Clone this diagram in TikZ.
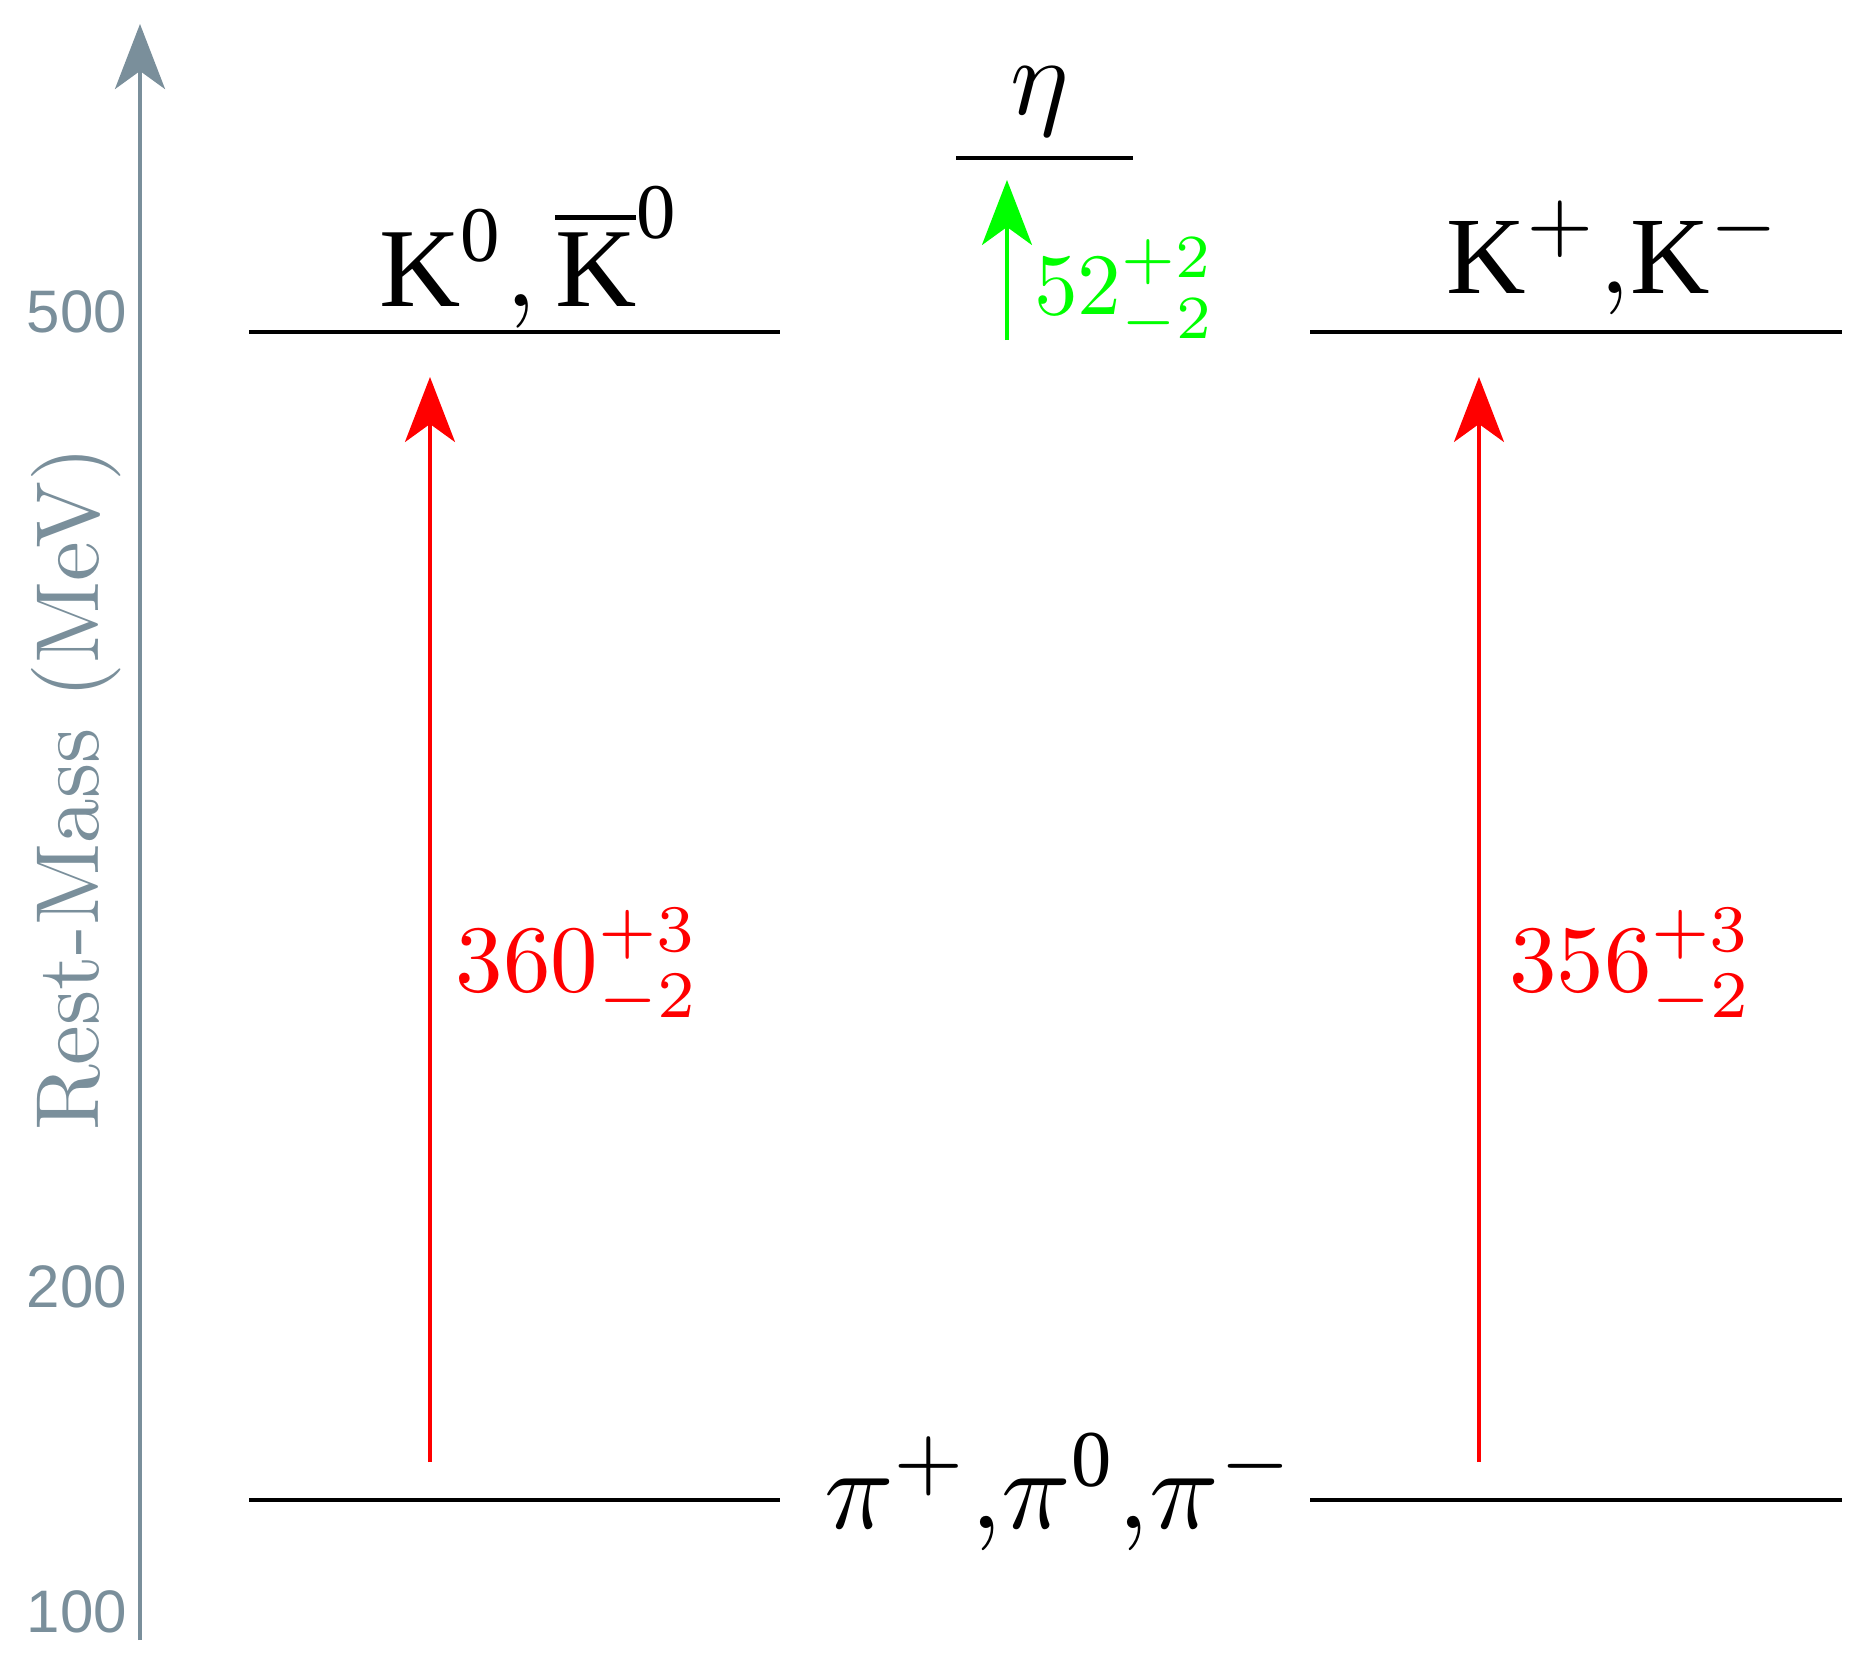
\documentclass[tikz,border=0pt]{standalone}
\usepackage{graphicx}
\usepackage{amsmath}
\usepackage{fontspec}
\newfontfamily\tickfont{Liberation Sans}
\newfontfamily\timesfont{Liberation Serif}
\newcommand{\tK}{\text{\timesfont K}}
\newcommand{\tzero}{\text{\timesfont 0}}
\usetikzlibrary{arrows.meta}
\definecolor{axisgray}{RGB}{122,143,155}
\definecolor{purered}{RGB}{255,0,0}
\definecolor{puregreen}{RGB}{0,255,0}
\begin{document}
\begin{tikzpicture}[x=0.2pt,y=-0.2pt,
  level/.style={line width=0.92pt, black},
  tipped/.style={-{Stealth[length=13pt,width=10pt,inset=3.6pt]}},
  axisline/.style={axisgray, line width=0.8pt, tipped},
  trans/.style={line width=0.7pt, tipped},
  ticklbl/.style={text=axisgray, inner sep=0pt, anchor=base east, font=\tickfont\fontsize{12}{14}\selectfont},
  lbl/.style={inner sep=0pt, font=\fontsize{10}{12}\selectfont},
  redlbl/.style={inner sep=0pt, anchor=base west, text=purered, font=\fontsize{10}{12}\selectfont},
  greenlbl/.style={inner sep=0pt, anchor=base west, text=puregreen, font=\fontsize{10}{12}\selectfont}]
\useasboundingbox (0,0) rectangle (1859,1666);

% axis
\coordinate (axB) at (140,1640);
\coordinate (axT) at (140,24);
\draw[axisline] (axB) -- (axT);
\node[ticklbl] (t500) at (128,332) {500};
\node[ticklbl] (t200) at (128,1307) {200};
\node[ticklbl] (t100) at (128,1632) {100};
\node[rotate=90, anchor=base, text=axisgray, inner sep=0pt, font=\fontsize{10}{12}\selectfont] (ylab) at (98,789) {\scalebox{1.79}{Rest-Mass (MeV)}};

% levels
\coordinate (k0L) at (249,332);  \coordinate (k0R) at (780,332);
\coordinate (kcL) at (1310,332); \coordinate (kcR) at (1842,332);
\coordinate (etaL) at (956,158); \coordinate (etaR) at (1133,158);
\coordinate (piA) at (249,1500); \coordinate (piB) at (780,1500);
\coordinate (piC) at (1310,1500); \coordinate (piD) at (1842,1500);
\draw[level] (k0L) -- (k0R);
\draw[level] (kcL) -- (kcR);
\draw[level] (etaL) -- (etaR);
\draw[level] (piA) -- (piB);
\draw[level] (piC) -- (piD);

% level labels
\node[lbl, anchor=base west] (k0lab) at (378,307) {\scalebox{2.25}{$\tK^{\tzero},\overline{\tK}^{\tzero}$}};
\node[lbl, anchor=base west] (kclab) at (1446,293) {\scalebox{2.2}{$\tK^+{,}\tK^-$}};
\node[lbl, anchor=base] (etalab) at (1040,115) {\scalebox{2.2}{$\eta$}};
\node[lbl, anchor=base west] (pilab) at (823,1528) {\scalebox{2.3}{$\pi^+{,}\pi^{\tzero}{,}\pi^-$}};

% transitions
\coordinate (r1s) at (430,1462); \coordinate (r1e) at (430,377);
\coordinate (r2s) at (1479,1462); \coordinate (r2e) at (1479,377);
\coordinate (gs) at (1007,340); \coordinate (ge) at (1007,180);
\draw[trans, purered] (r1s) -- (r1e);
\draw[trans, purered] (r2s) -- (r2e);
\draw[trans, puregreen] (gs) -- (ge);
\node[redlbl] (l360) at (455,992) {\scalebox{1.9}{$360^{+3}_{-2}$}};
\node[redlbl] (l356) at (1508,992) {\scalebox{1.9}{$356^{+3}_{-2}$}};
\node[greenlbl] (l52) at (1033,315) {\scalebox{1.75}{$52^{+2}_{-2}$}};
\end{tikzpicture}
\end{document}
